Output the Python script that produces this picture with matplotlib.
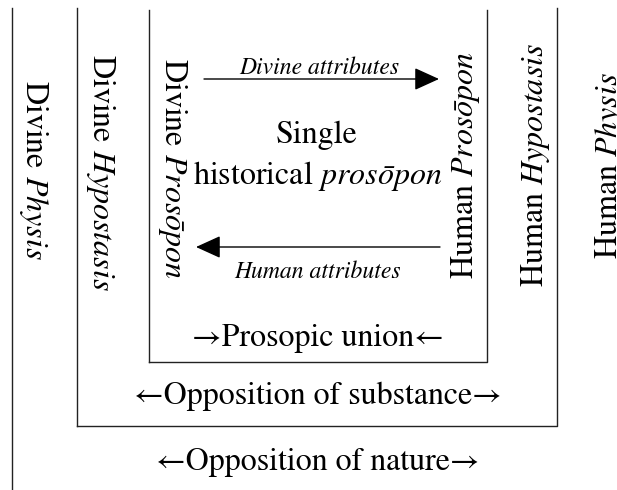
import matplotlib.pyplot as plt

plt.rcParams['font.family'] = 'STIXGeneral'
plt.rcParams['mathtext.fontset'] = 'stix'

W, H = 617, 490

# nested U-shaped frames: (left, right, top, bottom); None = side not drawn
frames = [(12, None, 8, 492), (77, 557, 8, 426), (149, 487, 10, 362)]

# vertical labels
divine_labels = ['Divine $\\mathit{Physis}$', 'Divine $\\mathit{Hypostasis}$',
                 'Divine $\\mathit{Prosōpon}$']
divine_x = [33, 100, 172]
divine_y = [170, 172, 168]
human_labels = ['Human $\\mathit{Prosōpon}$', 'Human $\\mathit{Hypostasis}$',
                'Human $\\mathit{Physis}$']
human_x = [465, 536, 610]
human_y = [165, 165, 165]

bottom_labels = ['→Prosopic union←', '←Opposition of substance→',
                 '←Opposition of nature→']
bottom_y = [338, 396, 462]

fig = plt.figure(figsize=(W / 100, H / 100), dpi=100)
ax = fig.add_axes([0, 0, 1, 1])
ax.set_xlim(0, W)
ax.set_ylim(H, 0)
ax.axis('off')

lc = '#222222'
for l, r, t, b in frames:
    ax.plot([l, l], [t, b], color=lc, lw=1)
    if r is not None:
        ax.plot([l, r, r], [b, b, t], color=lc, lw=1)

fs = 23
for x, y, s in zip(divine_x, divine_y, divine_labels):
    ax.text(x, y, s, rotation=-90, ha='center', va='center', fontsize=fs)
for x, y, s in zip(human_x, human_y, human_labels):
    ax.text(x, y, s, rotation=90, ha='center', va='center', fontsize=fs)
for y, s in zip(bottom_y, bottom_labels):
    ax.text(318, y, s, ha='center', va='center', fontsize=fs)

ax.text(317, 135, 'Single', ha='center', va='center', fontsize=fs)
ax.text(318, 176, 'historical $\\mathit{prosōpon}$', ha='center', va='center', fontsize=fs)

ax.text(319, 68, 'Divine attributes', style='italic', ha='center', va='center', fontsize=17)
ax.text(318, 272, 'Human attributes', style='italic', ha='center', va='center', fontsize=17)

akw = dict(arrowstyle='-|>,head_length=1.1,head_width=0.5', color='black', lw=1,
           shrinkA=0, shrinkB=0, mutation_scale=14)
ax.annotate('', xy=(439, 79), xytext=(204, 79), arrowprops=akw)
ax.annotate('', xy=(196, 247), xytext=(440, 247), arrowprops=akw)

fig.savefig('out.png', dpi=100)
